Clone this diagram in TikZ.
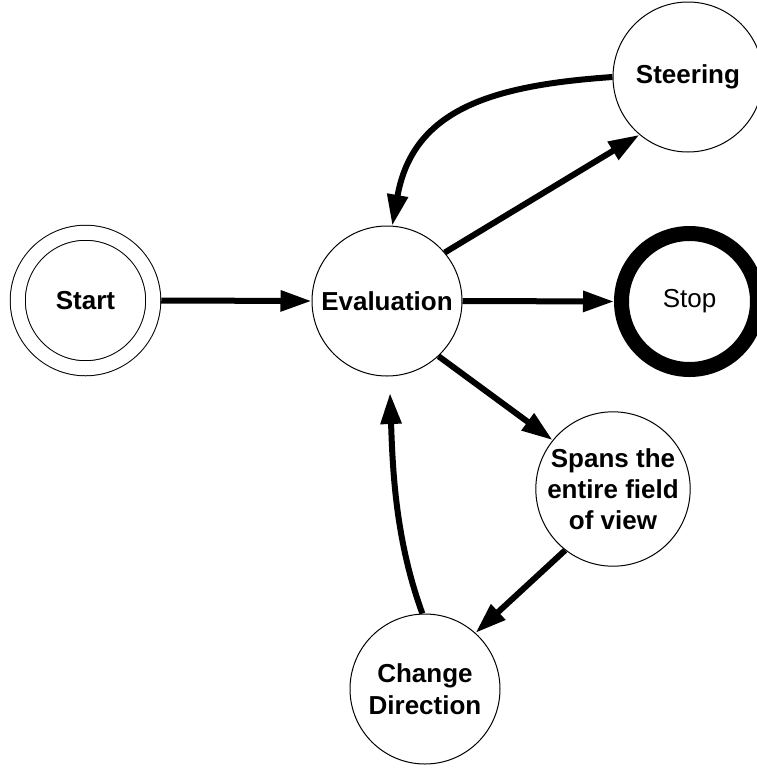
\documentclass[tikz,border=0pt]{standalone}
\usepackage{fontspec}
\setmainfont{Liberation Sans}
\usetikzlibrary{arrows.meta}
\begin{document}
\begin{tikzpicture}[x=1pt,y=-1pt,
  state/.style={circle,draw,line width=1pt,minimum size=150pt,inner sep=0pt,
    font=\fontsize{26}{31}\selectfont\bfseries,align=center},
  flow/.style={line width=6pt,-{Triangle[length=31pt,width=20pt]}}]
\useasboundingbox (0,0) rectangle (757,769);
\clip (0,0) rectangle (757,769);

% states
\node[state,double,double distance=14pt,minimum size=135.5pt,outer sep=8pt] (start) at (85.5,300.5) {Start};
\node[state] (eval) at (387,301) {Evaluation};
\node[state,line width=15pt,minimum size=136pt,font=\fontsize{26}{31}\selectfont] (stop) at (689.5,301.5) {Stop};
\node[state] (steer) at (688,77) {Steering};
\node[state] (spans) at (613,489) {Spans the\\entire field\\of view};
\node[state,font=\fontsize{26}{32}\selectfont\bfseries] (change) at (425,689) {Change\\Direction};
\coordinate (evalin) at (390,393);

% transitions
\draw[flow] (start.east) -- (eval.west);
\draw[flow] (eval.east) -- (stop.west);
\draw[flow] (eval.40) -- (steer.230);
\draw[flow] (steer.west) to[out=184,in=80,looseness=1.15] (eval.86);
\draw[flow] (eval.-47) -- (spans.141);
\draw[flow] (spans.232) -- (change.48);
\draw[flow] (change.92) to[out=110,in=-88,looseness=0.9] (evalin);
\end{tikzpicture}
\end{document}
